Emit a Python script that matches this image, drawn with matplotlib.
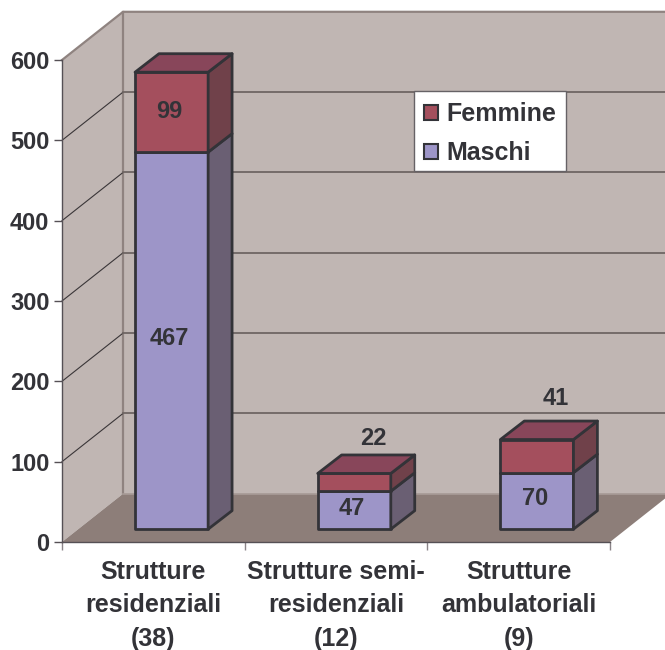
import matplotlib
matplotlib.use('Agg')
import matplotlib.pyplot as plt
from matplotlib.patches import Polygon, Patch, Rectangle

categories = ['Strutture\nresidenziali\n(38)', 'Strutture semi-\nresidenziali\n(12)', 'Strutture\nambulatoriali\n(9)']
maschi = [467, 47, 70]
femmine = [99, 22, 41]
y_ticks = [0, 100, 200, 300, 400, 500, 600]

plt.rcParams['font.family'] = ['Liberation Sans', 'DejaVu Sans']
plt.rcParams['font.weight'] = 'bold'

TEXT = '#333338'
EDGE = '#333338'
WALL = '#c0b6b3'
FLOOR = '#8d7e79'
WALL_EDGE = '#8f8380'
GRID = '#6f6664'

# depth of the chart box and of the bars, in data units
DX, DY = 0.334, 60
BAR_DX, BAR_DY = 0.131, 23
BAR_W = 0.40
BAR_BASE = 16
BAR_SCALE = 1.005

fig = plt.figure(figsize=(6.65, 6.5), dpi=100)
W, H = 665, 650
ax = fig.add_axes([62 / W, 1 - 542 / H, 548 / W, 482 / H])
ax.set_xlim(0, 3)
ax.set_ylim(0, 600)
ax.patch.set_visible(False)
for name in ['top', 'right']:
    ax.spines[name].set_visible(False)
for name in ['left', 'bottom']:
    ax.spines[name].set_color('#555055')
    ax.spines[name].set_linewidth(1.0)


def poly(points, face, edge=None, lw=0.0, z=1):
    ax.add_patch(Polygon(points, closed=True, facecolor=face, edgecolor=edge or face,
                         linewidth=lw, zorder=z, clip_on=False, joinstyle='round'))


# walls and floor
poly([(0, 0), (DX, DY), (DX, 600 + DY), (0, 600)], WALL, z=1)
poly([(DX, DY), (3.4, DY), (3.4, 600 + DY), (DX, 600 + DY)], WALL, z=1)
poly([(0, 0), (DX, DY), (3 + DX, DY), (3, 0)], FLOOR, z=1.1)
ax.plot([0, DX, 3.4], [600, 600 + DY, 600 + DY], color=WALL_EDGE, lw=1.6, zorder=1.2, clip_on=False)
ax.plot([DX, DX], [DY, 600 + DY], color=WALL_EDGE, lw=1.6, zorder=1.2, clip_on=False)
ax.plot([DX, 3.4], [DY, DY], color='#a89c98', lw=1.2, zorder=1.2, clip_on=False)

# gridlines on both walls
for t in y_ticks[1:-1]:
    ax.plot([0, DX], [t, t + DY], color='#3a3638', lw=0.8, zorder=1.3, clip_on=False)
    ax.plot([DX, 3.4], [t + DY, t + DY], color=GRID, lw=1.3, zorder=1.3, clip_on=False)

# stacked 3d bars
for i, (m, f) in enumerate(zip(maschi, femmine)):
    x0 = i + 0.6 - BAR_W / 2
    x1 = x0 + BAR_W
    y0 = BAR_BASE
    y1 = y0 + m * BAR_SCALE
    y2 = y1 + f * BAR_SCALE
    z = 3 + i
    poly([(x0, y0), (x1, y0), (x1, y1), (x0, y1)], '#9d95c8', EDGE, 2.0, z)
    poly([(x1, y0), (x1 + BAR_DX, y0 + BAR_DY), (x1 + BAR_DX, y1 + BAR_DY), (x1, y1)], '#6a5f73', EDGE, 2.0, z)
    poly([(x0, y1), (x1, y1), (x1, y2), (x0, y2)], '#a44f5d', EDGE, 2.0, z + 0.1)
    poly([(x1, y1), (x1 + BAR_DX, y1 + BAR_DY), (x1 + BAR_DX, y2 + BAR_DY), (x1, y2)], '#70414a', EDGE, 2.0, z + 0.1)
    poly([(x0, y2), (x0 + BAR_DX, y2 + BAR_DY), (x1 + BAR_DX, y2 + BAR_DY), (x1, y2)], '#88465a', EDGE, 2.0, z + 0.1)

    mid = i + 0.6
    label_kw = dict(textcoords='offset points', ha='center', va='center', fontsize=17,
                    color=TEXT, zorder=10, annotation_clip=False)
    ax.annotate(str(m), (mid, (y0 + y1) / 2), xytext=(-1.5, 1.5), **label_kw)
    if f < 50:
        # short segments get the label above the bar
        lift = 12 if i == 1 else 16
        ax.annotate(str(f), (mid + BAR_DX / 2, y2 + BAR_DY), xytext=(5, lift), **label_kw)
    else:
        ax.annotate(str(f), (mid, (y1 + y2) / 2), xytext=(-1.5, 0.5), **label_kw)

# axes
ax.set_yticks(y_ticks)
ax.set_yticklabels([str(t) for t in y_ticks], fontsize=17, color=TEXT, fontweight='bold')
ax.tick_params(axis='y', length=6, width=1, color='#555055', pad=3)
ax.set_xticks([0, 1, 2, 3])
ax.set_xticklabels([])
ax.tick_params(axis='x', length=6, width=1, color='#8a8488')
for i, label in enumerate(categories):
    ax.annotate(label, (i + 0.5, 0), xytext=(0, -13), textcoords='offset points', ha='center', va='top',
                fontsize=18, color=TEXT, fontweight='bold', linespacing=1.49, annotation_clip=False)

# legend, the frame is drawn apart so it can match the box height
ax.add_patch(Rectangle((414 / W, 1 - 171 / H), 152 / W, 80 / H, transform=fig.transFigure,
                       facecolor='white', edgecolor='#666266', linewidth=1.0, zorder=19, clip_on=False))
handles = [Patch(facecolor='#a44f5d', edgecolor=EDGE, linewidth=1.5, label='Femmine'),
           Patch(facecolor='#9d95c8', edgecolor=EDGE, linewidth=1.5, label='Maschi')]
leg = ax.legend(handles=handles, loc='upper left', bbox_to_anchor=(414 / W, 1 - 92 / H),
                bbox_transform=fig.transFigure, borderaxespad=0, frameon=False,
                prop={'size': 18, 'weight': 'bold', 'family': 'Liberation Sans'},
                handlelength=0.56, handleheight=0.56, handletextpad=0.32, labelspacing=0.62,
                borderpad=0.4, labelcolor=TEXT)
leg.set_zorder(20)

fig.savefig('out.png', dpi=100)
